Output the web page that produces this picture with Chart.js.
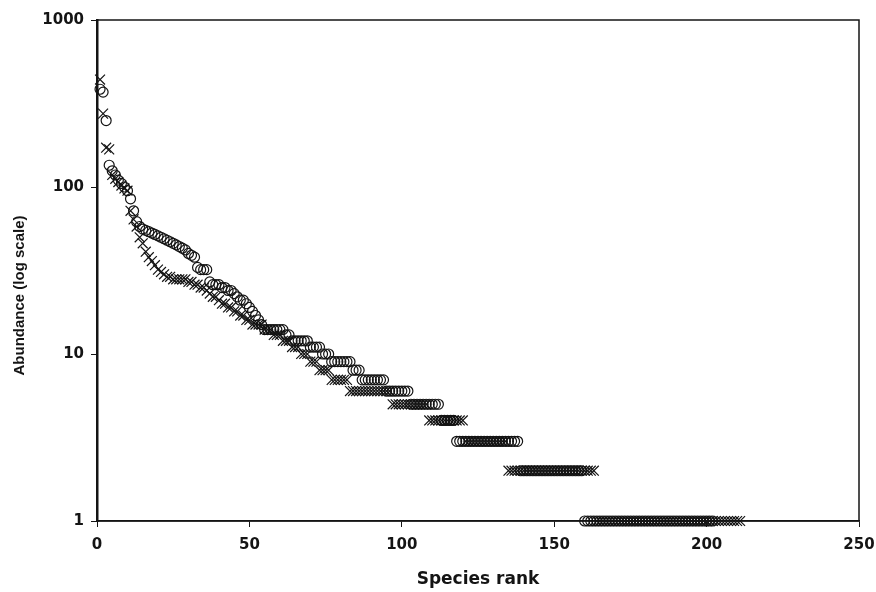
<!DOCTYPE html>
<html>
<head>
<meta charset="utf-8">
<script src="https://cdn.jsdelivr.net/npm/chart.js@4/dist/chart.umd.min.js"></script>
<style>
    html, body { margin: 0; padding: 0; background: #fff; }
    #wrap { width: 876px; height: 592px; position: relative; }
</style>
</head>
<body>
<div id="wrap"><canvas id="chart"></canvas></div>
<script>
// Abundancias por rango de especie (escala log)
// serie de círculos: rangos 1..202
const circleValues = [
    385, 370, 250, 135, 125, 118, 110, 105, 100, 95,
    85, 72, 62, 58, 56, 55, 54, 53, 52, 51,
    50, 49, 48, 47, 46, 45, 44, 43, 42, 40,
    39, 38, 33, 32, 32, 32, 27, 26, 26, 26,
    25, 25, 24, 24, 23, 22, 21, 21, 20, 19,
    18, 17, 16, 15,
    14, 14, 14, 14, 14, 14, 14,
    13, 13,
    12, 12, 12, 12, 12, 12,
    11, 11, 11, 11,
    10, 10, 10,
    9, 9, 9, 9, 9, 9, 9,
    8, 8, 8,
    7, 7, 7, 7, 7, 7, 7, 7,
    6, 6, 6, 6, 6, 6, 6, 6,
    5, 5, 5, 5, 5, 5, 5, 5, 5, 5,
    4, 4, 4, 4, 4,
    3, 3, 3, 3, 3, 3, 3, 3, 3, 3, 3, 3, 3, 3, 3, 3, 3, 3, 3, 3, 3,
    2, 2, 2, 2, 2, 2, 2, 2, 2, 2, 2, 2, 2, 2, 2, 2, 2, 2, 2, 2, 2,
    1, 1, 1, 1, 1, 1, 1, 1, 1, 1,
    1, 1, 1, 1, 1, 1, 1, 1, 1, 1,
    1, 1, 1, 1, 1, 1, 1, 1, 1, 1,
    1, 1, 1, 1, 1, 1, 1, 1, 1, 1,
    1, 1, 1
];

// serie de cruces: rangos 1..211
const crossValues = [
    440, 275, 172, 168, 118, 112, 107, 102, 98, 95,
    72, 64, 58, 50, 46, 41, 38, 36, 34, 32,
    31, 30, 29, 29, 28, 28, 28, 28, 28, 27,
    27, 26, 26, 25, 25, 24, 23, 22, 22, 21,
    20, 20, 19, 19, 18, 18, 17, 17, 16, 16,
    15, 15, 15, 15, 14, 14, 14,
    13, 13, 13,
    12, 12, 12,
    11, 11, 11,
    10, 10, 10,
    9, 9, 9,
    8, 8, 8, 8,
    7, 7, 7, 7, 7, 7,
    6, 6, 6, 6, 6, 6, 6, 6, 6, 6, 6, 6, 6, 6,
    5, 5, 5, 5, 5, 5, 5, 5, 5, 5, 5, 5,
    4, 4, 4, 4, 4, 4, 4, 4, 4, 4, 4, 4,
    3, 3, 3, 3, 3, 3, 3, 3, 3, 3, 3, 3, 3, 3,
    2, 2, 2, 2, 2, 2, 2, 2, 2, 2,
    2, 2, 2, 2, 2, 2, 2, 2, 2, 2,
    2, 2, 2, 2, 2, 2, 2, 2, 2,
    1, 1, 1, 1, 1, 1, 1, 1, 1, 1,
    1, 1, 1, 1, 1, 1, 1, 1, 1, 1,
    1, 1, 1, 1, 1, 1, 1, 1, 1, 1,
    1, 1, 1, 1, 1, 1, 1, 1, 1, 1,
    1, 1, 1, 1, 1, 1, 1, 1
];

const xTicks = [0, 50, 100, 150, 200, 250];
const yTicks = [1, 10, 100, 1000];
const yTitle = 'Abundance (log scale)';

const INK = '#141414';
const toPoints = arr => arr.map((v, i) => ({ x: i + 1, y: v }));

// marco del área de trazado + título del eje Y (un poco bajo el centro, como el original)
const framePlugin = {
    id: 'frame',
    beforeDatasetsDraw(chart) {
        const { ctx, chartArea: a } = chart;
        ctx.save();
        ctx.strokeStyle = INK;
        ctx.lineWidth = 1.5;
        ctx.strokeRect(a.left, a.top, a.right - a.left, a.bottom - a.top);
        ctx.restore();
    },
    afterDraw(chart) {
        const { ctx, chartArea: a } = chart;
        ctx.save();
        ctx.translate(20, (a.top + a.bottom) / 2 + 25);
        ctx.rotate(-Math.PI / 2);
        ctx.fillStyle = INK;
        ctx.font = 'bold 15px "Liberation Sans"';
        ctx.textAlign = 'center';
        ctx.textBaseline = 'middle';
        ctx.fillText(yTitle, 0, 0);
        ctx.restore();
    }
};

new Chart(document.getElementById('chart'), {
    type: 'scatter',
    data: {
        datasets: [{
            label: 'circles',
            data: toPoints(circleValues),
            pointStyle: 'circle',
            pointRadius: 5,
            borderColor: INK,
            backgroundColor: 'rgba(0,0,0,0)',
            borderWidth: 1.2,
            clip: false
        }, {
            label: 'crosses',
            data: toPoints(crossValues),
            pointStyle: 'crossRot',
            pointRadius: 7,
            borderColor: INK,
            backgroundColor: INK,
            borderWidth: 1.2,
            clip: false
        }]
    },
    options: {
        responsive: true,
        maintainAspectRatio: false,
        animation: false,
        layout: { padding: { left: 0, top: 20, right: 17, bottom: 0 } },
        plugins: {
            legend: { display: false },
            tooltip: { enabled: false }
        },
        scales: {
            x: {
                type: 'linear',
                min: 0,
                max: 250,
                afterBuildTicks: s => { s.ticks = xTicks.map(v => ({ value: v })); },
                afterFit: s => { s.height = 71; s.paddingRight = 0; },
                border: { display: true, color: INK, width: 1.5 },
                grid: { drawOnChartArea: false, drawTicks: true, tickLength: 6, color: INK, lineWidth: 1 },
                ticks: {
                    color: INK,
                    padding: 9,
                    font: { family: 'DejaVu Sans', size: 15, weight: 'bold' },
                    maxRotation: 0
                },
                title: {
                    display: true,
                    text: 'Species rank',
                    color: INK,
                    padding: { top: 0, bottom: 2 },
                    font: { family: 'DejaVu Sans', size: 17, weight: 'bold' }
                }
            },
            y: {
                type: 'logarithmic',
                min: 1,
                max: 1000,
                afterBuildTicks: s => { s.ticks = yTicks.map(v => ({ value: v })); },
                afterFit: s => { s.width = 97; },
                border: { display: true, color: INK, width: 2.5 },
                grid: { drawOnChartArea: false, drawTicks: true, tickLength: 6, color: INK, lineWidth: 1 },
                ticks: {
                    color: INK,
                    padding: 7,
                    font: { family: 'DejaVu Sans', size: 15, weight: 'bold' },
                    callback: v => String(v)
                },
                title: { display: false }
            }
        }
    },
    plugins: [framePlugin]
});
</script>
</body>
</html>
